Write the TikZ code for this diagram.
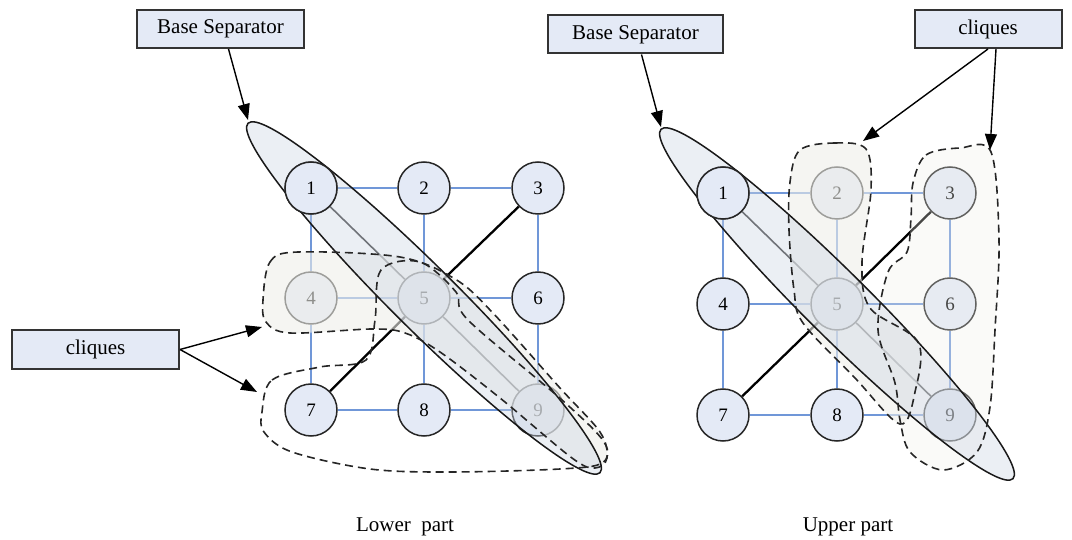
\documentclass[tikz,border=0pt]{standalone}
\usepackage{fontspec}
\setmainfont{Liberation Serif}
\usetikzlibrary{arrows.meta}
\definecolor{nodefill}{HTML}{E4EAF6}
\definecolor{gridblue}{HTML}{7097D8}
\definecolor{sepfill}{HTML}{CDD6E4}
\definecolor{cliquefill}{HTML}{EEEEE9}
\tikzset{
  gnode/.style={circle, draw=black!85, line width=1.5pt, fill=nodefill, minimum size=52pt, inner sep=0pt, font=\fontsize{19}{21}\selectfont},
  gedge/.style={gridblue, line width=1.7pt},
  cedge/.style={black, line width=2.3pt},
  sepedge/.style={black!80, line width=1.6pt},
  sepellipse/.style={draw=black!90, line width=1.5pt, fill=sepfill, fill opacity=0.4},
  cliquearea/.style={fill=cliquefill, fill opacity=0.6},
  cliqueline/.style={draw=black!85, line width=1.6pt, dash pattern=on 8pt off 5pt},
  labelbox/.style={draw=black!80, line width=2pt, fill=nodefill, minimum height=38pt, inner sep=0pt, font=\fontsize{21}{23}\selectfont},
  callout/.style={-{Triangle[length=16pt,width=12pt]}, line width=1.4pt},
}
\newcommand{\gridnode}[3] {\node at (#1) (#2) [gnode] {#3};}
\newcommand{\gridedge}[2] {\draw [gedge] (#1) -- (#2);}
\newcommand{\chord}[2] {\draw [cedge] (#1) -- (#2);}
\newcommand{\sepchord}[2] {\draw [sepedge] (#1) -- (#2);}
\newcommand{\calloutbox}[4] {\node at (#1) (#2) [labelbox, minimum width=#3] {#4};}
\newcommand{\cliqueLA}{plot [smooth cycle, tension=0.55] coordinates {(263,300) (270,262) (298,252) (400,257) (455,279) (492,312) (560,388) (600,432) (607,458) (595,468) (572,458) (500,398) (440,352) (405,333) (372,329) (290,333) (266,322)}}
\newcommand{\cliqueLB}{plot [smooth cycle, tension=0.55] coordinates {(262,412) (272,380) (320,367) (366,360) (375,320) (381,270) (420,262) (456,292) (468,320) (562,400) (604,442) (602,463) (560,469) (450,472) (370,469) (292,452) (264,432)}}
\newcommand{\cliqueRC}{plot [smooth cycle, tension=0.55] coordinates {(800,150) (835,143) (866,149) (871,190) (862,262) (870,308) (918,342) (915,392) (900,424) (855,378) (803,323) (794,290) (789,230) (790,182)}}
\newcommand{\cliqueRD}{plot [smooth cycle, tension=0.55] coordinates {(913,183) (926,155) (960,148) (991,152) (999,240) (995,330) (990,407) (977,452) (943,470) (910,452) (900,420) (895,383) (878,330) (888,272) (907,252) (911,218)}}

\begin{document}
\begin{tikzpicture}[x=1pt, y=-1pt]
\useasboundingbox (0,0) rectangle (1072,540);

% lower part
\gridnode {311,188}{L1}{1};
\gridnode {424,188}{L2}{2};
\gridnode {538,188}{L3}{3};
\gridnode {311,298}{L4}{4};
\gridnode {424,298}{L5}{5};
\gridnode {538,298}{L6}{6};
\gridnode {311,410}{L7}{7};
\gridnode {424,410}{L8}{8};
\gridnode {538,410}{L9}{9};

\gridedge{L1}{L2}; \gridedge{L2}{L3};
\gridedge{L4}{L5}; \gridedge{L5}{L6};
\gridedge{L7}{L8}; \gridedge{L8}{L9};
\gridedge{L1}{L4}; \gridedge{L4}{L7};
\gridedge{L2}{L5}; \gridedge{L5}{L8};
\gridedge{L3}{L6}; \gridedge{L6}{L9};
\chord{L3}{L5}; \chord{L5}{L7};
\sepchord{L1}{L5}; \sepchord{L5}{L9};

% upper part
\gridnode {723,193}{R1}{1};
\gridnode {837,193}{R2}{2};
\gridnode {950,193}{R3}{3};
\gridnode {723,304}{R4}{4};
\gridnode {837,304}{R5}{5};
\gridnode {950,304}{R6}{6};
\gridnode {723,415}{R7}{7};
\gridnode {837,415}{R8}{8};
\gridnode {950,415}{R9}{9};

\gridedge{R1}{R2}; \gridedge{R2}{R3};
\gridedge{R4}{R5}; \gridedge{R5}{R6};
\gridedge{R7}{R8}; \gridedge{R8}{R9};
\gridedge{R1}{R4}; \gridedge{R4}{R7};
\gridedge{R2}{R5}; \gridedge{R5}{R8};
\gridedge{R3}{R6}; \gridedge{R6}{R9};
\chord{R3}{R5}; \chord{R5}{R7};
\sepchord{R1}{R5}; \sepchord{R5}{R9};

% cliques and separators
\fill [cliquearea] \cliqueLA;
\fill [cliquearea] \cliqueRC;
\fill [cliquearea, fill opacity=0.3] \cliqueRD;
\draw [sepellipse, rotate around={-44.8:(L5.center)}] (L5.center) ellipse [x radius=248pt, y radius=32pt];
\draw [sepellipse, rotate around={-44.8:(R5.center)}] (R5.center) ellipse [x radius=248pt, y radius=32pt];
\node at (L1.center) (L1top) [gnode] {1};
\node at (R1.center) (R1top) [gnode] {1};
\draw [cliqueline] \cliqueLA;
\draw [cliqueline] \cliqueLB;
\draw [cliqueline] \cliqueRC;
\draw [cliqueline] \cliqueRD;

% callouts
\calloutbox {220.5,29}{LBS}{167pt}{Base Separator};
\calloutbox {95.5,349.5}{LCL}{167pt}{cliques};
\calloutbox {635.5,34.5}{RBS}{175pt}{Base Separator};
\calloutbox {988,29}{RCL}{147pt}{cliques};

\coordinate (LBStip) at (248,120);
\coordinate (LCAtip) at (262,327);
\coordinate (LCBtip) at (257,392);
\coordinate (RBStip) at (661,127);
\coordinate (RCCtip) at (863,141);
\coordinate (RCDtip) at (990,150);

\draw [callout] ([xshift=8pt]LBS.south) -- (LBStip);
\draw [callout] (LCL.east) -- (LCAtip);
\draw [callout] (LCL.east) -- (LCBtip);
\draw [callout] ([xshift=6pt]RBS.south) -- (RBStip);
\draw [callout] (RCL.south) -- (RCCtip);
\draw [callout] ([xshift=8pt]RCL.south) -- (RCDtip);

\node at (405,527) (lowerlabel) [font=\fontsize{21}{23}\selectfont] {Lower~ part};
\node at (848,527) (upperlabel) [font=\fontsize{21}{23}\selectfont] {Upper part};

\end{tikzpicture}
\end{document}
